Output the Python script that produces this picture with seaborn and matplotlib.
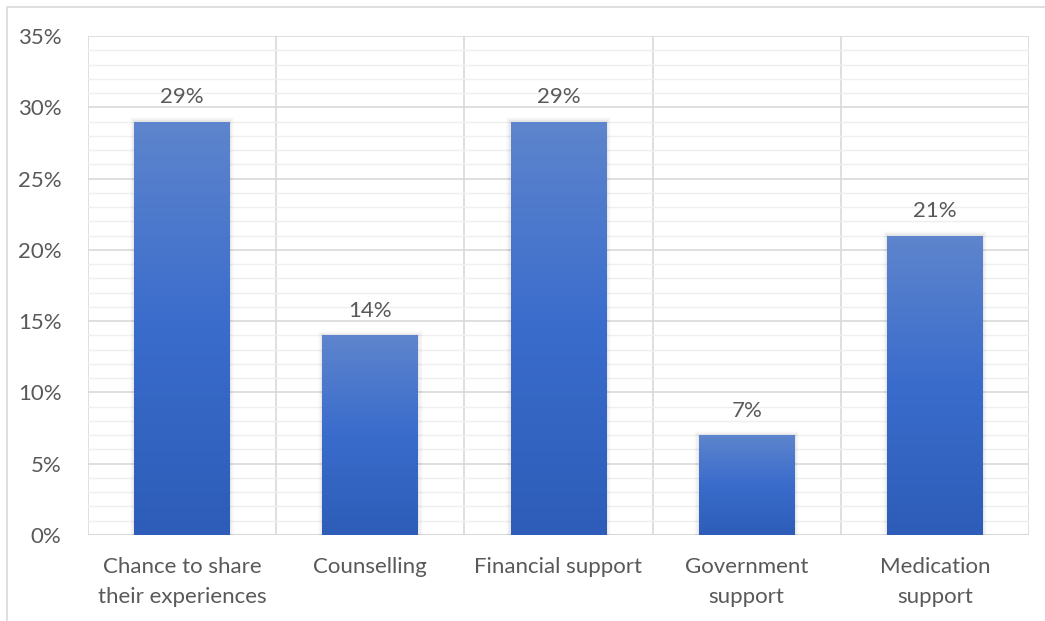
import numpy as np
import pandas as pd
import matplotlib
matplotlib.use("Agg")
import matplotlib.pyplot as plt
import seaborn as sns
from matplotlib.colors import LinearSegmentedColormap
from matplotlib.patches import Rectangle
from matplotlib.ticker import MultipleLocator, PercentFormatter

categories = ["Chance to share\ntheir experiences", "Counselling", "Financial support",
              "Government\nsupport", "Medication\nsupport"]
values = [29, 14, 29, 7, 21]
value_labels = ["29%", "14%", "29%", "7%", "21%"]
y_ticks = [0, 5, 10, 15, 20, 25, 30, 35]

df = pd.DataFrame({"category": categories, "value": values})

sns.set_theme(style="white")
plt.rcParams["font.family"] = ["Lato", "DejaVu Sans"]
text_color = "#595959"
grid_major = "#d9d9d9"
grid_minor = "#efefef"
fsize = 16

fig = plt.figure(figsize=(10.45, 6.21), dpi=100)
ax = fig.add_axes([88 / 1045, 1 - 535 / 621, (1029 - 88) / 1045, (535 - 36) / 621])

sns.barplot(data=df, x="category", y="value", ax=ax, color="#4472c4",
            width=0.51, saturation=1, zorder=3)

ax.set_ylim(0, 35)
ax.set_xlim(-0.5, len(categories) - 0.5)
ax.yaxis.set_major_locator(MultipleLocator(5))
ax.yaxis.set_minor_locator(MultipleLocator(1))
ax.yaxis.set_major_formatter(PercentFormatter(decimals=0))
ax.set_yticks(y_ticks)

# horizontal gridlines (major + minor) and vertical category separators
ax.grid(axis="y", which="major", color=grid_major, linewidth=1.2, zorder=0)
ax.grid(axis="y", which="minor", color=grid_minor, linewidth=1.0, zorder=0)
for b in np.arange(-0.5, len(categories), 1.0):
    ax.axvline(b, color=grid_major, linewidth=1.2, zorder=0.5)
ax.set_axisbelow(True)

for s in ax.spines.values():
    s.set_visible(False)
ax.axhline(0, color=grid_major, linewidth=1.5, zorder=1)

ax.set_xlabel("")
ax.set_ylabel("")
ax.tick_params(axis="both", which="both", length=0, colors=text_color, labelsize=fsize)
ax.tick_params(axis="y", pad=19)
ax.tick_params(axis="x", pad=15.5)
for lbl in ax.get_xticklabels():
    lbl.set_linespacing(1.68)

# gradient fill for each bar, with a soft shadow behind it
cmap = LinearSegmentedColormap.from_list(
    "bar_grad", [(0.0, "#2d5db8"), (0.5, "#3a6ccc"), (1.0, "#5e85cd")])
grad = np.linspace(0, 1, 256).reshape(-1, 1)
for patch in list(ax.patches):
    x0, y0 = patch.get_x(), patch.get_y()
    w, h = patch.get_width(), patch.get_height()
    for k, a in enumerate([0.035, 0.025, 0.018, 0.012]):
        dx = 0.006 * (k + 1)
        ax.add_patch(Rectangle((x0 - dx, y0), w + 2 * dx, h + 0.08 * (k + 1),
                               facecolor="#000000", alpha=a, edgecolor="none", zorder=2))
    im = ax.imshow(grad, extent=(x0, x0 + w, y0, y0 + h), origin="lower",
                   cmap=cmap, aspect="auto", zorder=3.5)
    im.set_clip_path(patch)
    patch.set_edgecolor("none")

ax.set_xlim(-0.5, len(categories) - 0.5)
ax.set_ylim(0, 35)

for i, (v, t) in enumerate(zip(values, value_labels)):
    ax.text(i, v + 1.0, t, ha="center", va="bottom", fontsize=fsize, color=text_color, zorder=5)

# thin frame around the chart
fig.patches.append(Rectangle((7 / 1045, -0.05), 1.2, 1 - 7 / 621 + 0.05,
                             transform=fig.transFigure, fill=False,
                             edgecolor="#d9d9d9", linewidth=1.2))

fig.savefig("out.png", dpi=100, facecolor="white")
